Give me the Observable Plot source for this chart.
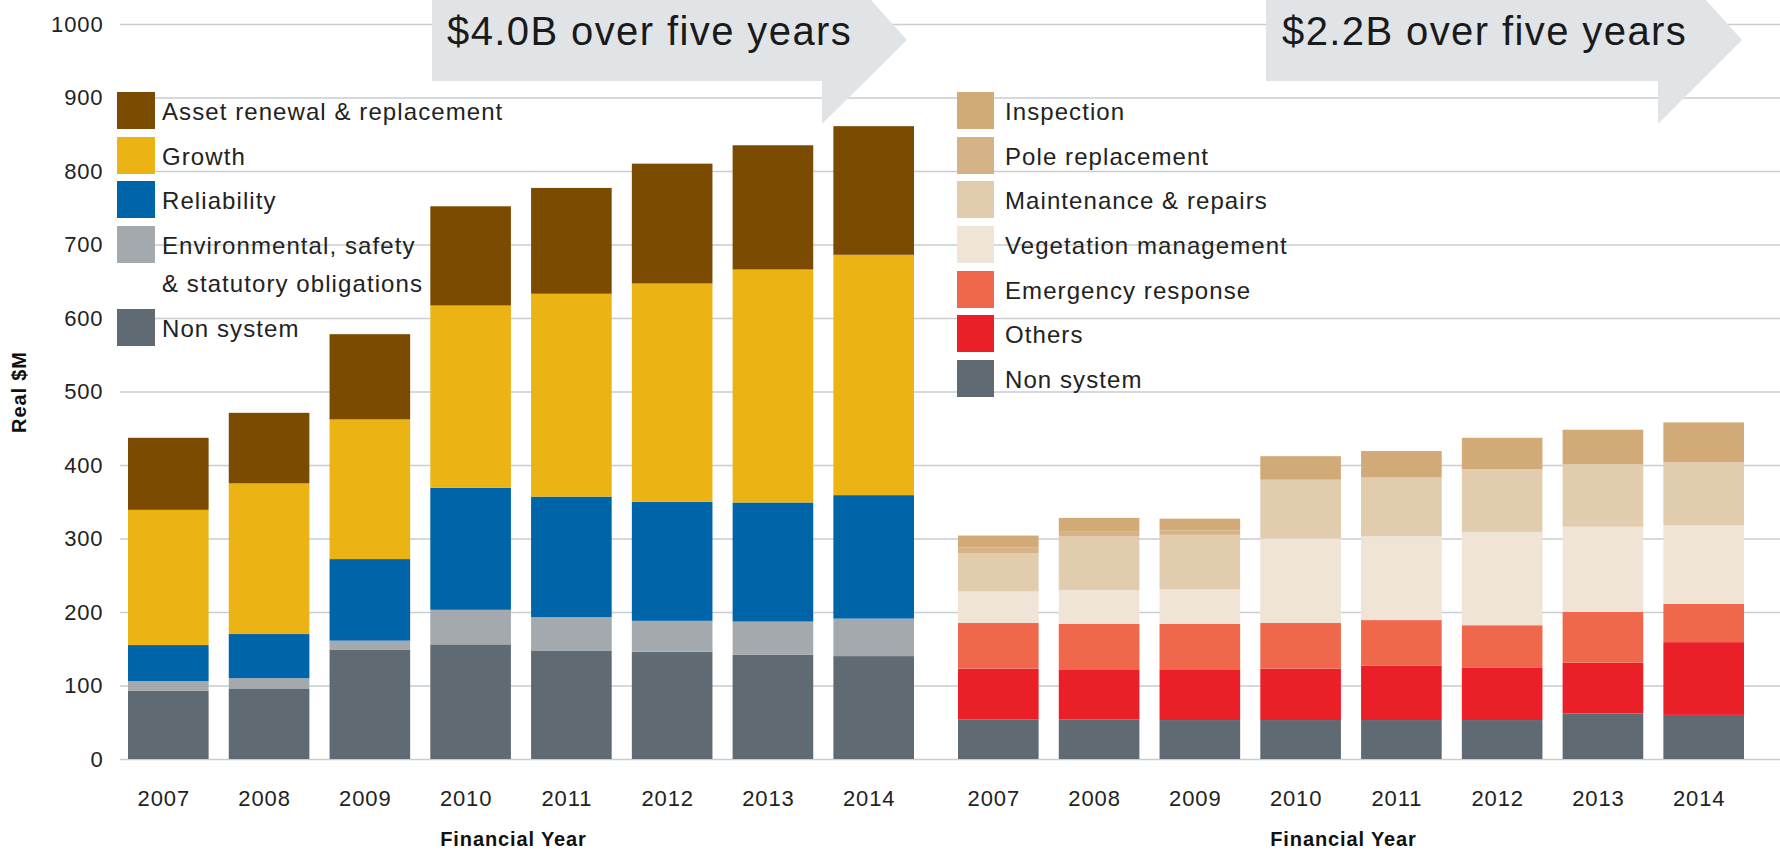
<!DOCTYPE html>
<html>
<head>
<meta charset="utf-8">
<script src="https://cdn.jsdelivr.net/npm/d3@7"></script>
<script src="https://cdn.jsdelivr.net/npm/@observablehq/plot@0.6"></script>
<style>
  html, body { margin: 0; padding: 0; background: #fff; }
  #wrap { position: relative; width: 1780px; height: 857px; overflow: hidden; font-family: "Liberation Sans", Arial, sans-serif; color: #222; }
  #wrap > svg.plot { position: absolute; left: 0; top: 0; }
  .overlay { position: absolute; left: 0; top: 0; pointer-events: none; }
  .legend { position: absolute; font-size: 24px; letter-spacing: 0.045em; color: #222; }
  .legend .row { display: flex; align-items: flex-start; margin-bottom: 5.7px; }
  .legend .sw { flex: none; height: 37px; }
  .legend .lab { line-height: 38px; white-space: pre-line; padding-top: 1px; }
</style>
</head>
<body>
<div id="wrap"></div>
<script>
// ---- data ----
const years = ["2007", "2008", "2009", "2010", "2011", "2012", "2013", "2014"];
const yTicks = [0, 100, 200, 300, 400, 500, 600, 700, 800, 900, 1000];
const panels = ["capex", "opex"];

// left panel (Real $M), bottom to top
const capexNonSystem     = [93, 96, 149, 156, 147, 146, 142, 140];
const capexEnvironmental = [13, 14, 12, 47, 46, 42, 45, 51];
const capexReliability   = [49, 60, 111, 166, 164, 162, 162, 168];
const capexGrowth        = [184, 205, 190, 248, 276, 297, 317, 327];
const capexAssetRenewal  = [98, 96, 116, 135, 144, 163, 169, 175];

// right panel (Real $M), bottom to top
const opexNonSystem   = [54, 54, 53, 53, 53, 53, 62, 60];
const opexOthers      = [69, 68, 69, 70, 74, 71, 69, 99];
const opexEmergency   = [62, 62, 62, 62, 62, 58, 69, 52];
const opexVegetation  = [43, 46, 47, 115, 114, 127, 116, 107];
const opexMaintenance = [52, 73, 74, 80, 80, 85, 85, 86];
const opexPole        = [8, 7, 6, 0, 0, 0, 0, 0];
const opexInspection  = [16, 18, 16, 32, 36, 43, 47, 54];

// series names (legend order, top to bottom)
const capexSeries = ["Asset renewal & replacement", "Growth", "Reliability", "Environmental, safety & statutory obligations", "Non system"];
const capexLegendLabels = ["Asset renewal & replacement", "Growth", "Reliability", "Environmental, safety\n& statutory obligations", "Non system"];
const capexColors = ["#7b4b02", "#ecb314", "#0065a8", "#a3a9ad", "#5f6a73"];
const capexValues = [capexAssetRenewal, capexGrowth, capexReliability, capexEnvironmental, capexNonSystem];

const opexSeries = ["Inspection", "Pole replacement", "Maintenance & repairs", "Vegetation management", "Emergency response", "Others", "Non system"];
const opexColors = ["#d1aa78", "#d6b386", "#e2ccae", "#f0e4d6", "#f0684b", "#eb1f27", "#5f6a73"];
const opexValues = [opexInspection, opexPole, opexMaintenance, opexVegetation, opexEmergency, opexOthers, opexNonSystem];

const arrowLabels = ["$4.0B over five years", "$2.2B over five years"];
const yLabel = "Real $M";
const xLabel = "Financial Year";

// ---- build table (bottom-most series first so it stacks at the base) ----
const rows = [];
function addPanel(panel, series, values) {
  for (let s = series.length - 1; s >= 0; s--) {
    years.forEach((year, i) => rows.push({panel, year, series: series[s], value: values[s][i]}));
  }
}
addPanel("capex", capexSeries, capexValues);
addPanel("opex", opexSeries, opexValues);

const colorDomain = [], colorRange = [];
[[capexSeries, capexColors], [opexSeries, opexColors]].forEach(([ss, cc]) => ss.forEach((s, i) => {
  if (!colorDomain.includes(s)) { colorDomain.push(s); colorRange.push(cc[i]); }
}));

// ---- chart ----
const chart = Plot.plot({
  width: 1780,
  height: 857,
  marginLeft: 120,
  marginRight: 0,
  marginTop: 24,
  marginBottom: 98,
  style: {fontFamily: "'Liberation Sans', Arial, sans-serif", fontSize: "22px", color: "#222", background: "white", letterSpacing: "0.04em"},
  fx: {domain: panels, padding: 0, axis: null, label: null},
  x: {domain: years, paddingInner: 0.2, paddingOuter: 0, round: false, insetLeft: 8, insetRight: 36, axis: null, label: null},
  y: {domain: [0, 1000], ticks: yTicks, tickSize: 0, tickPadding: 17, tickFormat: d => String(d), label: null},
  color: {domain: colorDomain, range: colorRange},
  marks: [
    Plot.gridY(yTicks, {stroke: "#c9cdd1", strokeOpacity: 1, strokeWidth: 1.5}),
    Plot.barY(rows, {fx: "panel", x: "year", y: "value", fill: "series"}),
    Plot.axisX({tickSize: 0, tickPadding: 31, label: null, dx: -5}),
    Plot.text([yLabel], {fx: () => panels[0], text: d => d, frameAnchor: "left", textAnchor: "middle", rotate: -90, dx: -101, fontWeight: "bold", fontSize: 20, fill: "#111"}),
    Plot.text(panels, {fx: d => d, text: () => xLabel, frameAnchor: "bottom", textAnchor: "middle", dy: 86, dx: -22, fontWeight: "bold", fontSize: 20, fill: "#111"})
  ]
});
chart.classList.add("plot");
const wrap = document.getElementById("wrap");
wrap.appendChild(chart);

// ---- arrow banners (annotation overlay) ----
const ns = "http://www.w3.org/2000/svg";
const ov = document.createElementNS(ns, "svg");
ov.setAttribute("class", "overlay");
ov.setAttribute("width", 1780);
ov.setAttribute("height", 140);
const arrows = [
  {pts: "432,-10 862,-10 907,40 822,124 822,81 432,81", tx: 447},
  {pts: "1266,-10 1697,-10 1742,40 1658,124 1658,81 1266,81", tx: 1282}
];
arrows.forEach((a, i) => {
  const p = document.createElementNS(ns, "polygon");
  p.setAttribute("points", a.pts);
  p.setAttribute("fill", "#e1e4e7");
  ov.appendChild(p);
  const t = document.createElementNS(ns, "text");
  t.setAttribute("x", a.tx);
  t.setAttribute("y", 45);
  t.setAttribute("font-family", "'Liberation Sans', Arial, sans-serif");
  t.setAttribute("font-size", 40);
  t.setAttribute("letter-spacing", "1.4");
  t.setAttribute("fill", "#1a1a1a");
  t.textContent = arrowLabels[i];
  ov.appendChild(t);
});
wrap.appendChild(ov);

// ---- legends ----
function legend(labels, colors, left, top, swW, gap) {
  const div = document.createElement("div");
  div.className = "legend";
  div.style.left = left + "px";
  div.style.top = top + "px";
  labels.forEach((lab, i) => {
    const row = document.createElement("div");
    row.className = "row";
    const sw = document.createElement("div");
    sw.className = "sw";
    sw.style.width = swW + "px";
    sw.style.background = colors[i];
    sw.style.marginRight = gap + "px";
    const tx = document.createElement("div");
    tx.className = "lab";
    tx.textContent = lab;
    row.appendChild(sw);
    row.appendChild(tx);
    div.appendChild(row);
  });
  wrap.appendChild(div);
}
legend(capexLegendLabels, capexColors, 117, 92, 38, 7);
legend(opexSeries, opexColors, 957, 92, 37, 11);
</script>
</body>
</html>
